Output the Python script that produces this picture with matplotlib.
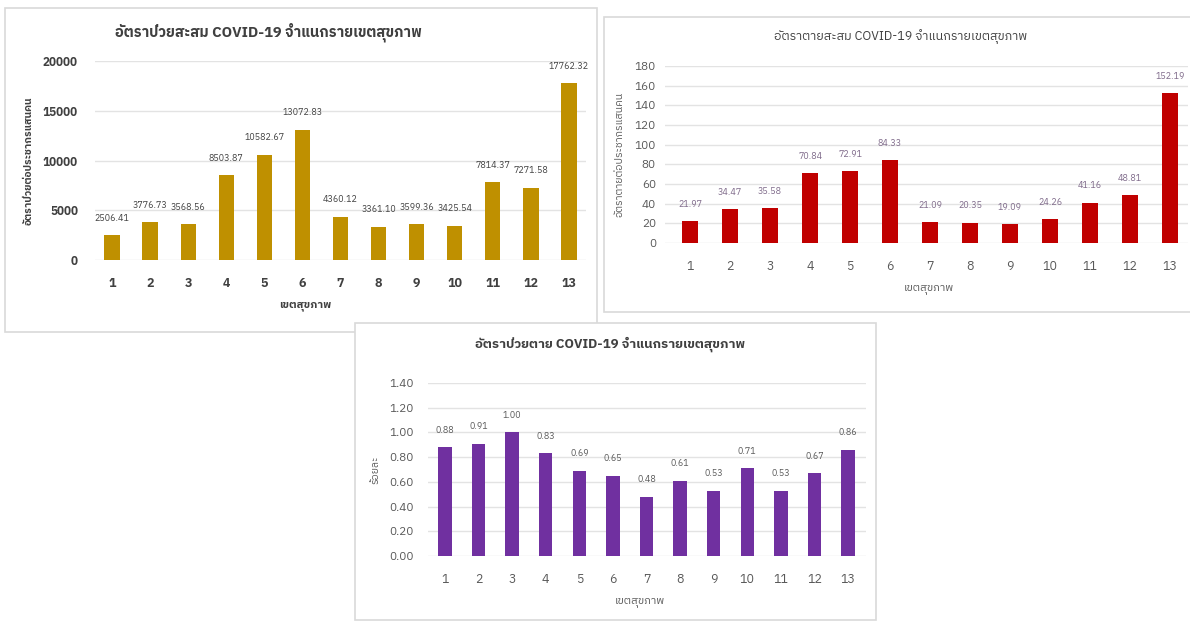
import matplotlib
matplotlib.use("Agg")
import matplotlib.pyplot as plt
from matplotlib.patches import Rectangle
from matplotlib import font_manager

# pick a font that has Thai glyphs if one is installed
names = sorted({f.name for f in font_manager.fontManager.ttflist})
thai = [n for n in names if "Thai" in n or "Loma" in n or "Garuda" in n or "Sarabun" in n]
plt.rcParams["font.family"] = thai + ["Noto Sans", "DejaVu Sans"]

regions = ["1", "2", "3", "4", "5", "6", "7", "8", "9", "10", "11", "12", "13"]

case_rate = [2506.41, 3776.73, 3568.56, 8503.87, 10582.67, 13072.83, 4360.12,
             3361.10, 3599.36, 3425.54, 7814.37, 7271.58, 17762.32]
death_rate = [21.97, 34.47, 35.58, 70.84, 72.91, 84.33, 21.09,
              20.35, 19.09, 24.26, 41.16, 48.81, 152.19]
cfr = [0.88, 0.91, 1.00, 0.83, 0.69, 0.65, 0.48, 0.61, 0.53, 0.71, 0.53, 0.67, 0.86]

titles = ["อัตราป่วยสะสม COVID-19 จำแนกรายเขตสุขภาพ",
          "อัตราตายสะสม COVID-19 จำแนกรายเขตสุขภาพ",
          "อัตราป่วยตาย COVID-19 จำแนกรายเขตสุขภาพ"]
ylabels = ["อัตราป่วยต่อประชากรแสนคน", "อัตราตายต่อประชากรแสนคน", "ร้อยละ"]
xlabel = "เขตสุขภาพ"

W, H = 1190, 621
fig = plt.figure(figsize=(W / 100, H / 100), dpi=100)
fig.patch.set_facecolor("white")


def px_box(x0, y0, x1, y1):
    # pixel box (top-left origin) -> figure fraction rect
    return [x0 / W, 1 - y1 / H, (x1 - x0) / W, (y1 - y0) / H]


def panel(box, axbox, x_first, x_last, values, ymax, ystep, color, tfmt,
          title, title_xy, title_size, title_bold, ylab, ylab_x, xlab_xy, ypad,
          z, bold, txtcol, lblcol):
    bx = px_box(*box)
    fig.patches.append(Rectangle((bx[0], bx[1]), bx[2], bx[3], transform=fig.transFigure,
                                 facecolor="white", edgecolor="#d9d9d9", lw=1.2, zorder=z))
    ax = fig.add_axes(px_box(*axbox), zorder=z + 1)
    ax.patch.set_alpha(0)
    x = list(range(1, len(values) + 1))
    ax.bar(x, values, width=0.4, color=color, zorder=3)
    # x limits so bar 1 and 13 sit at the measured pixel centers
    unit = (x_last - x_first) / 12
    ax.set_xlim(1 - (x_first - axbox[0]) / unit, 13 + (axbox[2] - x_last) / unit)
    ax.set_ylim(0, ymax)
    ticks = [i * ystep for i in range(int(round(ymax / ystep)) + 1)]
    weight = "bold" if bold else "normal"
    ax.set_yticks(ticks)
    ax.set_yticklabels([tfmt.format(t) for t in ticks], fontsize=8.5,
                       color=txtcol, fontweight=weight)
    ax.set_xticks(x)
    ax.set_xticklabels(regions, fontsize=9, color=txtcol, fontweight=weight)
    ax.tick_params(axis="x", length=0, pad=12)
    ax.tick_params(axis="y", length=0, pad=ypad * 0.72)
    ax.grid(axis="y", color="#e3e3e3", lw=1, zorder=0)
    for s in ax.spines.values():
        s.set_visible(False)
    for xi, v in zip(x, values):
        ax.annotate("{:.2f}".format(v), (xi, v), xytext=(0, 9), textcoords="offset points",
                    ha="center", va="bottom", fontsize=6.5, color=lblcol)
    fig.text(title_xy[0] / W, 1 - title_xy[1] / H, title, ha="center", va="center",
             fontsize=title_size, fontweight="bold" if title_bold else "normal",
             color="#404040", zorder=z + 2)
    fig.text(ylab_x / W, 1 - (axbox[1] + axbox[3]) / 2 / H, ylab, rotation=90,
             ha="center", va="center", fontsize=7.5, color=txtcol,
             fontweight=weight, zorder=z + 2)
    fig.text(xlab_xy[0] / W, 1 - xlab_xy[1] / H, xlabel, ha="center", va="center",
             fontsize=8, color=txtcol, fontweight=weight, zorder=z + 2)
    return ax


panel((5, 8, 597, 332), (95, 61, 586, 260), 112, 569, case_rate, 20000, 5000,
      "#BF9000", "{:.0f}", titles[0], (268, 32), 10.5, True, ylabels[0], 29, (305, 306),
      17, 1, True, "#404040", "#404040")
panel((604, 17, 1195, 312), (665, 66, 1188, 243), 690, 1170, death_rate, 180, 20,
      "#C00000", "{:.0f}", titles[1], (901, 37), 9, False, ylabels[1], 620, (929, 289),
      9, 1, False, "#595959", "#7f6a8a")
panel((355, 323, 876, 620), (428, 383, 866, 556), 445, 848, cfr, 1.4, 0.2,
      "#7030A0", "{:.2f}", titles[2], (610, 344), 9.5, True, ylabels[2], 376, (640, 602),
      14, 5, False, "#595959", "#595959")

fig.savefig("out.png", dpi=100)
